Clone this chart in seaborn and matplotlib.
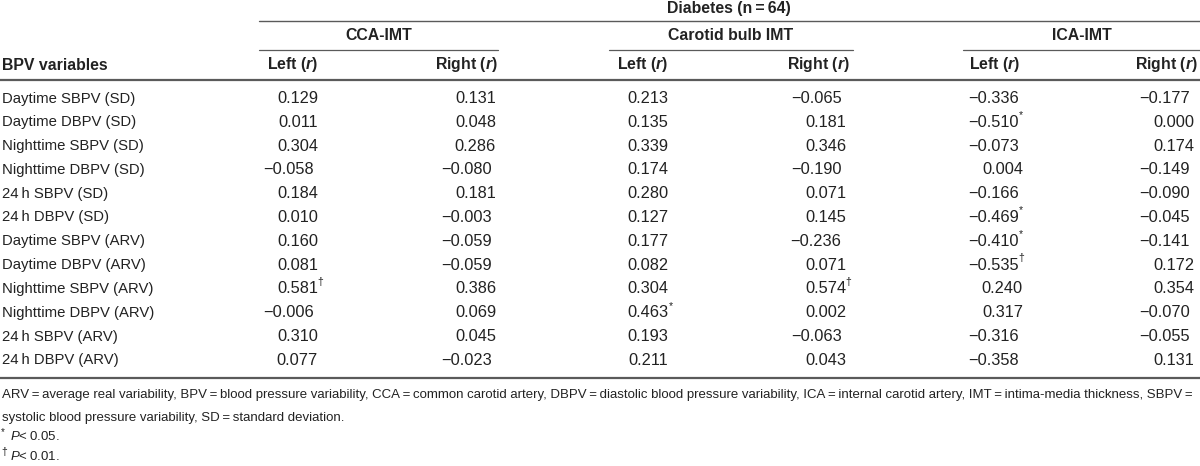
import seaborn as sns
import numpy as np
import pandas as pd
import matplotlib
matplotlib.use('Agg')
import matplotlib.pyplot as plt
from matplotlib import font_manager

# 数据准备
labels = ['Daytime SBPV (SD)', 'Daytime DBPV (SD)', 'Nighttime SBPV (SD)', 'Nighttime DBPV (SD)',
          '24\u2009h SBPV (SD)', '24\u2009h DBPV (SD)', 'Daytime SBPV (ARV)', 'Daytime DBPV (ARV)',
          'Nighttime SBPV (ARV)', 'Nighttime DBPV (ARV)', '24\u2009h SBPV (ARV)', '24\u2009h DBPV (ARV)']
cca_left = [0.129, 0.011, 0.304, -0.058, 0.184, 0.010, 0.160, 0.081, 0.581, -0.006, 0.310, 0.077]
cca_right = [0.131, 0.048, 0.286, -0.080, 0.181, -0.003, -0.059, -0.059, 0.386, 0.069, 0.045, -0.023]
bulb_left = [0.213, 0.135, 0.339, 0.174, 0.280, 0.127, 0.177, 0.082, 0.304, 0.463, 0.193, 0.211]
bulb_right = [-0.065, 0.181, 0.346, -0.190, 0.071, 0.145, -0.236, 0.071, 0.574, 0.002, -0.063, 0.043]
ica_left = [-0.336, -0.510, -0.073, 0.004, -0.166, -0.469, -0.410, -0.535, 0.240, 0.317, -0.316, -0.358]
ica_right = [-0.177, 0.000, 0.174, -0.149, -0.090, -0.045, -0.141, 0.172, 0.354, -0.070, -0.055, 0.131]
# 显著性标记
cca_left_sig = {8: '\u2020'}
cca_right_sig = {}
bulb_left_sig = {9: '*'}
bulb_right_sig = {8: '\u2020'}
ica_left_sig = {1: '*', 5: '*', 6: '*', 7: '\u2020'}
ica_right_sig = {}

groups = ['CCA-IMT', 'Carotid bulb IMT', 'ICA-IMT']
title = 'Diabetes (n\u2009=\u200964)'
footnote = ('ARV\u2009=\u2009average real variability, BPV\u2009=\u2009blood pressure variability, '
            'CCA\u2009=\u2009common carotid artery, DBPV\u2009=\u2009diastolic blood pressure variability, '
            'ICA\u2009=\u2009internal carotid artery, IMT\u2009=\u2009intima-media thickness, SBPV\u2009=')
footnote2 = 'systolic blood pressure variability, SD\u2009=\u2009standard deviation.'

df = pd.DataFrame({'cca_l': cca_left, 'cca_r': cca_right, 'bulb_l': bulb_left,
                   'bulb_r': bulb_right, 'ica_l': ica_left, 'ica_r': ica_right}, index=labels)
sigs = [cca_left_sig, cca_right_sig, bulb_left_sig, bulb_right_sig, ica_left_sig, ica_right_sig]

sns.set_theme(style='white')

names = {f.name for f in font_manager.fontManager.ttflist}
base = 'Liberation Sans' if 'Liberation Sans' in names else 'DejaVu Sans'
plt.rcParams['font.family'] = [base, 'DejaVu Sans']
plt.rcParams['mathtext.fontset'] = 'custom'
plt.rcParams['mathtext.rm'] = base
plt.rcParams['mathtext.it'] = base + ':italic'
plt.rcParams['mathtext.bf'] = base + ':bold'
plt.rcParams['mathtext.bfit'] = base + ':italic:bold'

txt = '#222222'
line_c = '#5a5a5a'
fs_lab = 10.7
fs_head = 11.4
fs_num = 11.8

fig = plt.figure(figsize=(12, 4.66), dpi=100)
ax = fig.add_axes([0, 0, 1, 1])
ax.set_xlim(0, 1200)
ax.set_ylim(466, 0)
ax.axis('off')

# 表头
ax.text(729, 9, title, ha='center', va='center', fontsize=fs_head, fontweight='bold', color=txt)
ax.plot([259, 1200], [21, 21], color=line_c, lw=1.0)
spans = [(259, 498), (609, 853), (963, 1200)]
for g, (a, b) in zip(groups, spans):
    ax.text((a + b) / 2, 36, g, ha='center', va='center', fontsize=fs_head, fontweight='bold', color=txt)
    ax.plot([a, b], [50, 50], color=line_c, lw=0.9)

ax.text(2, 65, 'BPV variables', ha='left', va='center', fontsize=fs_head, fontweight='bold', color=txt)
head_x = [318, 498, 668, 850, 1020, 1198]
val_x = [318, 496, 668, 846, 1023, 1194]
for i, hx in enumerate(head_x):
    lab = r'Left ($\mathbfit{r}$)' if i % 2 == 0 else r'Right ($\mathbfit{r}$)'
    ax.text(hx, 65, lab, ha='right', va='center', fontsize=fs_head, fontweight='bold', color=txt)
ax.plot([0, 1200], [80, 80], color=line_c, lw=1.6)

# 数据行
row_y = 98.5
step = 23.8
for r, lab in enumerate(df.index):
    y = row_y + r * step
    ax.text(2, y, lab, ha='left', va='center', fontsize=fs_lab, color=txt)
    for c, col in enumerate(df.columns):
        v = df.iloc[r, c]
        s = f'{v:.3f}'.replace('-', '\u2212')
        x = val_x[c] - (4.5 if v < 0 else 0)
        ax.text(x, y, s, ha='right', va='center', fontsize=fs_num, color=txt)
        if r in sigs[c]:
            mark = sigs[c][r]
            dx = -0.5 if mark == '\u2020' else 0.5
            ax.text(x + dx, y - 7, mark, ha='left', va='center', fontsize=7.5, color=txt)
ax.plot([0, 1200], [378, 378], color=line_c, lw=1.6)

# 注释, 字号按宽度调整
fn = 10.0
t1 = ax.text(2, 395, footnote, ha='left', va='center', fontsize=fn, color=txt)
fig.canvas.draw()
w = t1.get_window_extent().width
fn = fn * 1194 / w
t1.set_fontsize(fn)
ax.text(2, 418, footnote2, ha='left', va='center', fontsize=fn, color=txt)
ax.text(1, 432, '*', ha='left', va='center', fontsize=7, color=txt)
ax.text(10, 437, '$\\mathit{P}$<\u20090.05.', ha='left', va='center', fontsize=fn, color=txt)
ax.text(1, 452, '\u2020', ha='left', va='center', fontsize=7.5, color=txt)
ax.text(10, 456, '$\\mathit{P}$<\u20090.01.', ha='left', va='center', fontsize=fn, color=txt)

fig.savefig('out.png', dpi=100, facecolor='white')
